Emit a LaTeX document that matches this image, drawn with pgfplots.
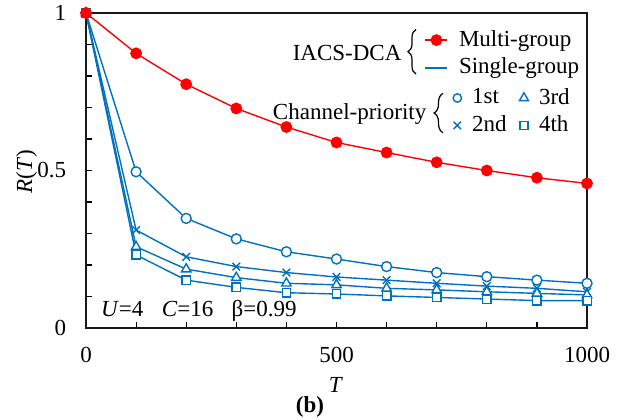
\documentclass[border=0pt]{standalone}
\usepackage{fontspec}
\setmainfont{Liberation Serif}
\usepackage{pgfplots}
\pgfplotsset{compat=1.18}
\usetikzlibrary{decorations.pathreplacing}
\definecolor{myblue}{RGB}{0,112,192}
\definecolor{myred}{RGB}{255,0,0}
\pgfplotsset{
  legA/.style={legend image code/.code={\draw[mark repeat=2,mark phase=2,#1] plot coordinates {(0pt,0pt)(5.5pt,0pt)(11pt,0pt)};}},
  legB/.style={legend image code/.code={\draw[#1] plot coordinates {(2.2pt,0pt)};}},
  common/.style={at={(0,0)}, anchor=south west, scale only axis, width=250.5pt, height=157.5pt},
}
\begin{document}
\fontsize{11.5}{13.8}\selectfont
\begin{tikzpicture}
\useasboundingbox (-43pt,-45.5pt) rectangle (269pt,164pt);
\begin{axis}[
  common,
  xmin=0, xmax=1000, ymin=0, ymax=1,
  xtick={0,500,1000}, minor xtick={100,200,...,900},
  ytick={0,0.5,1}, minor ytick={0.1,0.2,...,0.9},
  tick align=inside, xtick pos=left, ytick pos=left,
  major tick length=3pt, minor tick length=3pt,
  tick style={black, line width=0.6pt},
  axis line style={black!90, line width=1pt},
  /pgf/number format/assume math mode=true,
  /pgf/number format/1000 sep={},
  xticklabel style={anchor=center, yshift=-13.5pt},
  yticklabel style={anchor=east, inner sep=0pt, xshift=-9.7pt},
  clip=false,
  legA,
  legend style={at={(0.6747,0.8705)}, anchor=west, draw=none, fill=none, inner sep=0pt,
    /tikz/every odd column/.style={column sep=3.3pt}},
  legend cell align=left,
]
\addplot[myblue, line width=0.7pt, mark=*, mark size=2.5pt, mark options={solid, fill=white}, forget plot] coordinates {
(0,1)(100,0.496)(200,0.348)(300,0.283)(400,0.242)(500,0.219)(600,0.195)(700,0.176)(800,0.163)(900,0.152)(1000,0.142)};
\addplot[myblue, line width=0.7pt, mark=x, mark size=2.7pt, mark options={solid}, forget plot] coordinates {
(0,1)(100,0.311)(200,0.226)(300,0.195)(400,0.176)(500,0.162)(600,0.152)(700,0.142)(800,0.133)(900,0.126)(1000,0.115)};
\addplot[myblue, line width=0.7pt, mark=triangle*, mark size=2.7pt, mark options={solid, fill=white}, forget plot] coordinates {
(0,1)(100,0.258)(200,0.187)(300,0.160)(400,0.142)(500,0.137)(600,0.126)(700,0.121)(800,0.115)(900,0.110)(1000,0.105)};
\addplot[myblue, line width=0.7pt, mark=square*, mark size=2.1pt, mark options={solid, fill=white}, forget plot] coordinates {
(0,1)(100,0.232)(200,0.152)(300,0.129)(400,0.112)(500,0.108)(600,0.102)(700,0.097)(800,0.092)(900,0.087)(1000,0.087)};
\addplot[myred, line width=0.7pt, mark=*, mark size=2.6pt, mark options={solid, fill=myred}, forget plot] coordinates {
(0,1)(100,0.872)(200,0.774)(300,0.697)(400,0.638)(500,0.589)(600,0.557)(700,0.526)(800,0.500)(900,0.477)(1000,0.459)};
\addlegendimage{myred, line width=0.7pt, mark=*, mark size=2.6pt, mark options={fill=myred}}
\addlegendentry{Multi-group}
\addlegendimage{myblue, line width=1pt}
\addlegendentry{Single-group}
\node[rotate=90] at (rel axis cs:-0.1184,0.496) {\textit{R}(\textit{T})};
\node at (rel axis cs:0.499,-0.181) {\textit{T}};
\node at (rel axis cs:0.447,-0.250) {\textbf{(b)}};
\node[anchor=base west, inner sep=0pt] at (axis cs:29.3,0.036) {\textit{U}=4\hspace{0.8em}\textit{C}=16\hspace{0.8em}β=0.99};
\draw[decorate, decoration={brace, amplitude=4pt}, line width=0.6pt] (axis cs:658.7,0.806) -- (axis cs:658.7,0.948);
\draw[decorate, decoration={brace, amplitude=4.5pt}, line width=0.6pt] (axis cs:712.6,0.620) -- (axis cs:712.6,0.745);
\node[anchor=east, inner sep=0pt] at (axis cs:630.3,0.874) {IACS-DCA};
\node[anchor=east, inner sep=0pt] at (axis cs:680,0.679) {Channel-priority};
\end{axis}
\begin{axis}[
  common, hide axis,
  xmin=0, xmax=1, ymin=0, ymax=1,
  legB,
  legend columns=2,
  legend style={at={(0.732,0.6867)}, anchor=west, draw=none, fill=none, inner sep=0pt,
    /tikz/every odd column/.style={column sep=3.3pt},
    /tikz/every even column/.style={column sep=4.4pt}},
  legend cell align=left,
]
\addlegendimage{myblue, only marks, line width=0.7pt, mark=*, mark size=2.1pt, mark options={fill=white}}
\addlegendentry{1st}
\addlegendimage{myblue, only marks, line width=0.7pt, mark=triangle*, mark size=2.6pt, mark options={fill=white}}
\addlegendentry{3rd}
\addlegendimage{myblue, only marks, line width=0.7pt, mark=x, mark size=2.6pt}
\addlegendentry{2nd}
\addlegendimage{myblue, only marks, line width=0.7pt, mark=square*, mark size=2pt, mark options={fill=white}}
\addlegendentry{4th}
\end{axis}
\end{tikzpicture}
\end{document}
